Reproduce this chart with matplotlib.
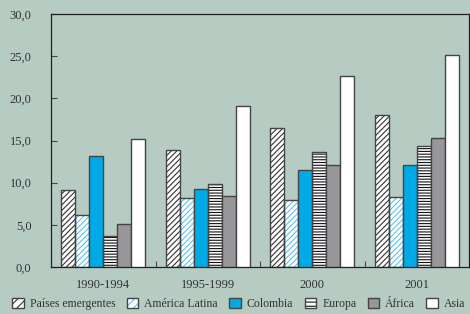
import matplotlib
matplotlib.use("Agg")
import matplotlib.pyplot as plt
import numpy as np

categories = ["1990-1994", "1995-1999", "2000", "2001"]
series_names = ["Países emergentes", "América Latina", "Colombia", "Europa", "África", "Asia"]
paises = [9.1, 13.9, 16.5, 18.0]
america_latina = [6.2, 8.2, 7.9, 8.3]
colombia = [13.2, 9.3, 11.5, 12.1]
europa = [3.7, 9.8, 13.6, 14.3]
africa = [5.1, 8.4, 12.1, 15.3]
asia = [15.2, 19.1, 22.6, 25.1]
yticks = [0, 5, 10, 15, 20, 25, 30]

series = [paises, america_latina, colombia, europa, africa, asia]

bg = "#B6CBC2"
edge = "#444444"
txt = "#333333"
styles = [
    dict(face="white", hatch="//////", hcolor="#333333"),
    dict(face="white", hatch="//////", hcolor="#5BC3EE"),
    dict(face="#00AAE6", hatch=None, hcolor=None),
    dict(face="white", hatch="------", hcolor="#111111"),
    dict(face="#97979B", hatch=None, hcolor=None),
    dict(face="white", hatch=None, hcolor=None),
]

plt.rcParams["font.family"] = ["Liberation Serif", "DejaVu Serif"]
plt.rcParams["hatch.linewidth"] = 0.8

fig = plt.figure(figsize=(4.7, 3.14), dpi=100, facecolor=bg)
ax = fig.add_axes([51/470, 47/314, 418/470, 253/314], facecolor=bg)

x = np.arange(len(categories))
n = len(series)
w = 0.8 / n
handles = []
for i, (vals, st) in enumerate(zip(series, styles)):
    pos = x - 0.4 + w * (i + 0.5)
    if st["hatch"]:
        ax.bar(pos, vals, w, color=st["face"], edgecolor=st["hcolor"], hatch=st["hatch"], linewidth=0, zorder=2)
        ax.bar(pos, vals, w, facecolor="none", edgecolor=edge, linewidth=1.0, zorder=3)
        h1 = plt.Rectangle((0, 0), 1, 1, facecolor=st["face"], edgecolor=st["hcolor"], hatch=st["hatch"].replace("//////", "////").replace("------", "----"), linewidth=0)
        h2 = plt.Rectangle((0, 0), 1, 1, facecolor="none", edgecolor=edge, linewidth=1.0)
        handles.append((h1, h2))
    else:
        ax.bar(pos, vals, w, color=st["face"], edgecolor=edge, linewidth=1.0, zorder=3)
        handles.append(plt.Rectangle((0, 0), 1, 1, facecolor=st["face"], edgecolor=edge, linewidth=1.0))

ax.set_xlim(-0.5, len(categories) - 0.5)
ax.set_ylim(0, 30)
ax.set_yticks(yticks)
ax.set_yticklabels([f"{v:.1f}".replace(".", ",") for v in yticks])
ax.set_xticks(x)
ax.set_xticklabels(categories)
ax.set_xticks(np.arange(0.5, len(categories) - 0.5, 1), minor=True)
ax.tick_params(axis="x", which="major", length=0, pad=9, labelsize=9, labelcolor=txt)
ax.tick_params(axis="x", which="minor", direction="in", length=4, color=edge, width=0.8)
ax.tick_params(axis="y", direction="in", length=4, pad=14, labelsize=9, labelcolor=txt, color=edge, width=0.8)
for sp in ax.spines.values():
    sp.set_color("#222222")
    sp.set_linewidth(0.9)

fig.legend(handles, series_names, loc="center left", bbox_to_anchor=(12/470, 1 - 304/314),
           bbox_transform=fig.transFigure, ncol=6, frameon=False, fontsize=8.5,
           handlelength=1.0, handleheight=1.0, handletextpad=0.5, columnspacing=0.95,
           borderpad=0, borderaxespad=0, labelcolor=txt)

fig.savefig("out.png", dpi=100, facecolor=bg)
